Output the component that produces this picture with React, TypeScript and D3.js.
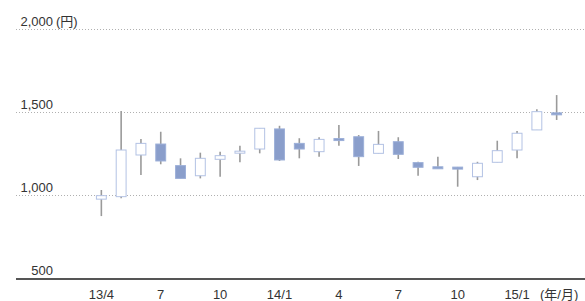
import React, { useEffect, useRef } from "react"
import * as d3 from "d3"

// monthly candles, 2013/4 .. 2015/3
const months = [
  "13/4", "13/5", "13/6", "13/7", "13/8", "13/9", "13/10", "13/11", "13/12",
  "14/1", "14/2", "14/3", "14/4", "14/5", "14/6", "14/7", "14/8", "14/9",
  "14/10", "14/11", "14/12", "15/1", "15/2", "15/3",
]
const openV = [975, 990, 1241, 1307, 1177, 1116, 1215, 1258, 1277, 1398, 1311, 1261, 1340, 1351, 1251, 1321, 1195, 1170, 1168, 1110, 1197, 1271, 1392, 1495]
const closeV = [996, 1271, 1311, 1205, 1100, 1221, 1237, 1264, 1402, 1211, 1277, 1335, 1334, 1231, 1305, 1245, 1167, 1165, 1164, 1191, 1267, 1372, 1502, 1488]
const highV = [1030, 1506, 1337, 1381, 1221, 1255, 1261, 1297, 1402, 1417, 1342, 1348, 1422, 1361, 1386, 1348, 1200, 1231, 1169, 1200, 1327, 1386, 1516, 1602]
const lowV = [873, 980, 1120, 1185, 1100, 1100, 1110, 1197, 1251, 1205, 1221, 1231, 1297, 1175, 1251, 1217, 1116, 1161, 1050, 1090, 1197, 1221, 1392, 1452]

const tickMonths = ["13/4", "13/7", "13/10", "14/1", "14/4", "14/7", "14/10", "15/1"]
const tickLabels = ["13/4", "7", "10", "14/1", "4", "7", "10", "15/1"]
const gridValues = [1000, 1500, 2000]

const W = 585
const H = 301
const FONT = "'Liberation Sans', 'Noto Sans CJK JP', sans-serif"

const App = () => {
  const ref = useRef<SVGSVGElement>(null)

  useEffect(() => {
    const svg = d3.select(ref.current)
    svg.selectAll("*").remove()

    const x = d3.scaleBand().domain(months).range([87, 571]).padding(0.45)
    const y = d3.scaleLinear().domain([500, 2000]).range([278, 29])
    const cx = (m: string) => (x(m) as number) + x.bandwidth() / 2

    // dotted grid
    svg
      .selectAll("line.grid")
      .data(gridValues)
      .enter()
      .append("line")
      .attr("class", "grid")
      .attr("x1", 16)
      .attr("x2", W)
      .attr("y1", (d) => y(d) + 0.5)
      .attr("y2", (d) => y(d) + 0.5)
      .attr("stroke", "#b0b0b0")
      .attr("stroke-width", 1)
      .attr("stroke-dasharray", "1,2")

    // base line at 500
    svg
      .append("line")
      .attr("x1", 16)
      .attr("x2", W)
      .attr("y1", y(500) + 1)
      .attr("y2", y(500) + 1)
      .attr("stroke", "#555")
      .attr("stroke-width", 2)

    // y labels
    svg
      .selectAll("text.ylab")
      .data([500, ...gridValues])
      .enter()
      .append("text")
      .attr("class", "ylab")
      .attr("x", 53)
      .attr("y", (d) => y(d) - 3)
      .attr("text-anchor", "end")
      .attr("font-family", FONT)
      .attr("font-size", 13)
      .attr("fill", "#333")
      .text((d) => d3.format(",")(d))

    svg
      .append("text")
      .attr("x", 56)
      .attr("y", y(2000) - 3)
      .attr("font-family", FONT)
      .attr("font-size", 13)
      .attr("fill", "#333")
      .text("(円)")

    const data = months.map((m, i) => ({
      m,
      o: openV[i],
      c: closeV[i],
      h: highV[i],
      l: lowV[i],
    }))

    const g = svg.selectAll("g.candle").data(data).enter().append("g").attr("class", "candle")

    g.append("line")
      .attr("x1", (d) => cx(d.m))
      .attr("x2", (d) => cx(d.m))
      .attr("y1", (d) => y(d.h))
      .attr("y2", (d) => y(d.l))
      .attr("stroke", "#9a9a9a")
      .attr("stroke-width", 1.6)

    g.append("rect")
      .attr("x", (d) => (x(d.m) as number) + 0.5)
      .attr("width", x.bandwidth() - 1)
      .attr("y", (d) => y(Math.max(d.o, d.c)))
      .attr("height", (d) => Math.max(2, Math.abs(y(d.o) - y(d.c))))
      .attr("fill", (d) => (d.c >= d.o ? "#fff" : "#8a9ecb"))
      .attr("stroke", (d) => (d.c >= d.o ? "#b3c2e4" : "#9cafd8"))
      .attr("stroke-width", 1)

    // x labels
    svg
      .selectAll("text.xlab")
      .data(tickMonths)
      .enter()
      .append("text")
      .attr("class", "xlab")
      .attr("x", (d) => cx(d))
      .attr("y", 299)
      .attr("text-anchor", "middle")
      .attr("font-family", FONT)
      .attr("font-size", 13)
      .attr("fill", "#333")
      .text((d, i) => tickLabels[i])

    svg
      .append("text")
      .attr("x", 540)
      .attr("y", 299)
      .attr("font-family", FONT)
      .attr("font-size", 13)
      .attr("fill", "#333")
      .text("(年/月)")
  }, [])

  return (
    <svg
      ref={ref}
      width={W}
      height={H}
      style={{ position: "absolute", left: 0, top: 0, background: "#fff" }}
    />
  )
}

export default App
